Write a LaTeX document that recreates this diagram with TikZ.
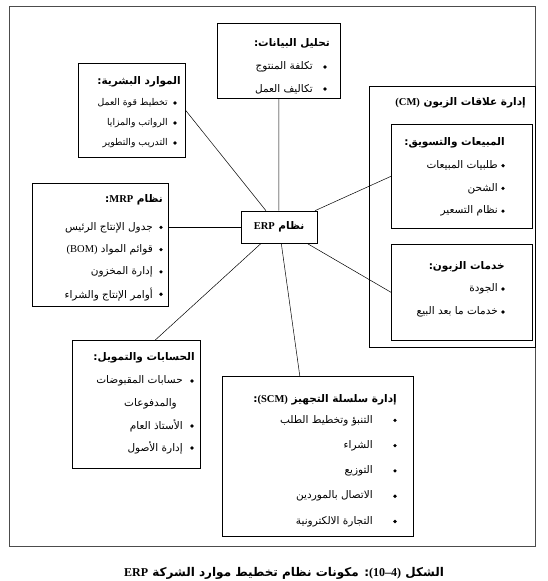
\documentclass[tikz,border=0pt]{standalone}
\usepackage{fontspec}
\setmainfont{Liberation Serif}
\newfontfamily\arfont[Script=Arabic]{DejaVu Sans}
\TeXXeTstate=1
\newcommand{\artxt}[1]{{\arfont\beginR #1\endR}}
\newcommand{\ltn}[1]{\beginL{\rmfamily #1}\endL}
\usetikzlibrary{positioning}

\begin{document}
\begin{tikzpicture}[x=1pt, y=-1pt,
  blk/.style={draw, line width=0.6pt, anchor=north west, inner sep=0pt},
  hd/.style={anchor=east, inner sep=0pt, font=\bfseries\fontsize{10.5}{12}\selectfont},
  itm/.style={anchor=east, inner sep=0pt, font=\fontsize{10.5}{12}\selectfont},
  dot/.style={circle, fill, inner sep=0pt, minimum size=3.6pt},
  spoke/.style={line width=0.5pt}]
\useasboundingbox (0,0) rectangle (548,581);
\draw[line width=0.8pt, black!70] (9,6) rectangle (535,546);
% boxes
\node[blk, minimum width=123pt, minimum height=75pt] (data) at (217,23) {};
\node[blk, minimum width=107pt, minimum height=94pt] (hr) at (78,63) {};
\node[blk, minimum width=166pt, minimum height=261pt] (cm) at (369,86) {};
\node[blk, minimum width=141pt, minimum height=104pt] (sales) at (391,124) {};
\node[blk, minimum width=141pt, minimum height=96pt] (svc) at (391,244) {};
\node[blk, minimum width=136pt, minimum height=123pt] (mrp) at (32,183) {};
\node[blk, minimum width=128pt, minimum height=128pt] (fin) at (72,340) {};
\node[blk, minimum width=191pt, minimum height=160pt] (scm) at (222,376) {};
\node[blk, anchor=center, minimum width=76pt, minimum height=32pt, fill=white,
  font=\bfseries\fontsize{10.5}{12}\selectfont] (erp) at (279,227) {\artxt{نظام \ltn{ERP}}};
% spokes
\draw[spoke] (erp) -- (data);
\draw[spoke] (erp) -- (hr.east);
\draw[spoke] (erp) -- (erp -| mrp.east);
\draw[spoke] (erp) -- ([xshift=19pt]fin.north);
\draw[spoke] (erp) -- ([xshift=-18pt]scm.north);
\draw[spoke] (erp) -- (sales.west);
\draw[spoke] (erp) -- (svc.west);
% headings
\node[hd] (data-h) at (330,43) {\artxt{تحليل البيانات:}};
\node[hd] (hr-h) at (181,82) {\artxt{الموارد البشرية:}};
\node[hd] (cm-h) at (526,103) {\artxt{إدارة علاقات الزبون \ltn{(CM)}}};
\node[hd] (sales-h) at (505,143) {\artxt{المبيعات والتسويق:}};
\node[hd] (svc-h) at (505,267) {\artxt{خدمات الزبون:}};
\node[hd] (mrp-h) at (163,200) {\artxt{نظام \ltn{MRP}:}};
\node[hd] (fin-h) at (195,358) {\artxt{الحسابات والتمويل:}};
\node[hd] (scm-h) at (397,400) {\artxt{إدارة سلسلة التجهيز \ltn{(SCM)}:}};
% items
\foreach \t [count=\i] in {{تكلفة المنتوج}, {تكاليف العمل}}
  {\node[itm] (data-\i) at (313,45+22*\i) {\artxt{\t}}; \node[dot] (data-d\i) at (325,45+22*\i) {};}
\foreach \t [count=\i] in {{تخطيط قوة العمل}, {الرواتب والمزايا}, {التدريب والتطوير}}
  {\node[itm, font=\fontsize{9.3}{11}\selectfont] (hr-\i) at (168,83+20*\i) {\artxt{\t}}; \node[dot] (hr-d\i) at (175,83+20*\i) {};}
\foreach \t [count=\i] in {{طلبيات المبيعات}, {الشحن}, {نظام التسعير}}
  {\node[itm] (sales-\i) at (498,143+22.7*\i) {\artxt{\t}}; \node[dot] (sales-d\i) at (503,143+22.7*\i) {};}
\foreach \t [count=\i] in {{الجودة}, {خدمات ما بعد البيع}}
  {\node[itm] (svc-\i) at (498,266+23*\i) {\artxt{\t}}; \node[dot] (svc-d\i) at (503,266+23*\i) {};}
\foreach \t [count=\i] in {{جدول الإنتاج الرئيس}, {قوائم المواد \ltn{(BOM)}}, {إدارة المخزون}, {أوامر الإنتاج والشراء}}
  {\node[itm] (mrp-\i) at (153,205+22.3*\i) {\artxt{\t}}; \node[dot] (mrp-d\i) at (161,205+22.3*\i) {};}
\node[itm] (fin-1) at (183,381) {\artxt{حسابات المقبوضات}}; \node[dot] (fin-d1) at (192,381) {};
\node[itm] (fin-1b) at (177,404) {\artxt{والمدفوعات}};
\node[itm] (fin-2) at (183,426) {\artxt{الأستاذ العام}}; \node[dot] (fin-d2) at (192,426) {};
\node[itm] (fin-3) at (183,448) {\artxt{إدارة الأصول}}; \node[dot] (fin-d3) at (192,448) {};
\foreach \t [count=\i] in {{التنبؤ وتخطيط الطلب}, {الشراء}, {التوزيع}, {الاتصال بالموردين}, {التجارة الالكترونية}}
  {\node[itm] (scm-\i) at (373,395+25.3*\i) {\artxt{\t}}; \node[dot] (scm-d\i) at (395,395+25.3*\i) {};}
% caption
\node[font=\bfseries\fontsize{12}{14}\selectfont] (cap) at (284,573)
  {\artxt{الشكل \ltn{(10–4)}: مكونات نظام تخطيط موارد الشركة \ltn{ERP}}};
\end{tikzpicture}
\end{document}
